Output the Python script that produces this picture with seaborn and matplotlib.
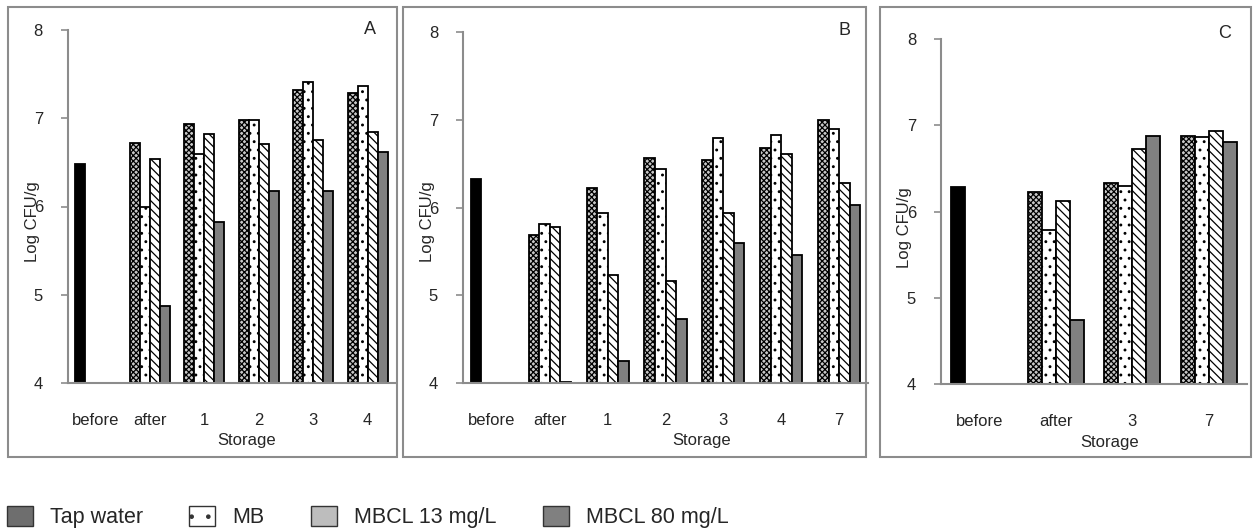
import matplotlib

matplotlib.use("Agg")
import matplotlib.pyplot as plt
import matplotlib.patches as mpatches
import pandas as pd
import seaborn as sns

# --- data ---
SERIES = ["Tap water", "MB", "MBCL 13 mg/L", "MBCL 80 mg/L"]

cats_a = ["before", "after", "1", "2", "3", "4"]
before_a = 6.48
tap_a = [6.72, 6.93, 6.98, 7.32, 7.29]
mb_a = [5.99, 6.59, 6.98, 7.41, 7.36]
mbcl13_a = [6.54, 6.82, 6.71, 6.75, 6.84]
mbcl80_a = [4.87, 5.82, 6.18, 6.18, 6.62]

cats_b = ["before", "after", "1", "2", "3", "4", "7"]
before_b = 6.33
tap_b = [5.69, 6.22, 6.56, 6.54, 6.68, 7.00]
mb_b = [5.81, 5.94, 6.44, 6.79, 6.83, 6.90]
mbcl13_b = [5.78, 5.23, 5.16, 5.94, 6.61, 6.28]
mbcl80_b = [4.01, 4.25, 4.73, 5.60, 5.46, 6.03]

cats_c = ["before", "after", "3", "7"]
before_c = 6.28
tap_c = [6.23, 6.33, 6.88]
mb_c = [5.79, 6.30, 6.86]
mbcl13_c = [6.12, 6.72, 6.93]
mbcl80_c = [4.74, 6.88, 6.81]

# --- styling ---
FONT = 12
LEGEND_FONT = 15.5
GRAY = "#8c8c8c"
BAR_FILL = {
    "Tap water": ("#c8c8c8", "xxxxxx"),
    "MB": ("white", ".."),
    "MBCL 13 mg/L": ("white", "\\\\\\\\"),
    "MBCL 80 mg/L": ("#808080", None),
}

sns.set_theme(style="white")
plt.rcParams["font.family"] = ["Liberation Sans", "DejaVu Sans"]
plt.rcParams["hatch.linewidth"] = 0.9
plt.rcParams["font.size"] = FONT


def make_df(cats, before, tap, mb, m13, m80):
    rows = [{"Storage": cats[0], "Treatment": "Tap water", "Log": before}]
    for i, c in enumerate(cats[1:]):
        for s, vals in zip(SERIES, [tap, mb, m13, m80]):
            rows.append({"Storage": c, "Treatment": s, "Log": vals[i]})
    return pd.DataFrame(rows)


# letter, data, categories, axes box (px), xlabel coords, letter pos, ylabel dx (px), ylabel y
panels = [
    ("A", make_df(cats_a, before_a, tap_a, mb_a, mbcl13_a, mbcl80_a), cats_a,
     (68, 395, 30, 383), (0.547, -0.142), (0.924, 1.0), -28, 0.456),
    ("B", make_df(cats_b, before_b, tap_b, mb_b, mbcl13_b, mbcl80_b), cats_b,
     (463, 868, 32, 383), (0.59, -0.142), (0.943, 1.005), -28, 0.459),
    ("C", make_df(cats_c, before_c, tap_c, mb_c, mbcl13_c, mbcl80_c), cats_c,
     (941, 1247, 39, 384), (0.552, -0.148), (0.928, 1.017), -29, 0.452),
]

W, H = 1253, 532
fig = plt.figure(figsize=(W / 100, H / 100), dpi=100)

# outer frames around each panel
for x0, x1 in [(8, 397), (403, 866), (880, 1251)]:
    fig.patches.append(
        mpatches.Rectangle(
            (x0 / W, 1 - 457 / H), (x1 - x0) / W, 450 / H,
            transform=fig.transFigure, fill=False, edgecolor=GRAY, lw=1.5,
        )
    )

for letter, df, cats, (l, r, t, b), xl, lett, ylab_dx, ylab_y in panels:
    ax = fig.add_axes([l / W, 1 - b / H, (r - l) / W, (b - t) / H])
    sns.barplot(
        data=df, x="Storage", y="Log", hue="Treatment", order=cats,
        hue_order=SERIES, width=0.73, dodge=True, legend=False, ax=ax,
        errorbar=None, gap=0,
    )
    for cont, s in zip(ax.containers, SERIES):
        face, hatch = BAR_FILL[s]
        for bar in cont:
            bar.set_facecolor(face)
            bar.set_edgecolor("black")
            bar.set_linewidth(1.3)
            if hatch:
                bar.set_hatch(hatch)
            if s == "Tap water" and bar.get_x() + bar.get_width() / 2 < 0.5:
                bar.set_facecolor("black")
                bar.set_hatch(None)

    ax.set_ylim(4, 8)
    ax.set_xlim(-0.5, len(cats) - 0.5)
    ax.set_yticks([4, 5, 6, 7, 8])
    ax.tick_params(axis="y", length=5, width=1.2, color=GRAY, pad=13,
                   labelsize=FONT, left=True, direction="out")
    ax.tick_params(axis="x", length=0, pad=21.5, labelsize=FONT)
    for side in ["top", "right"]:
        ax.spines[side].set_visible(False)
    for side in ["left", "bottom"]:
        ax.spines[side].set_color(GRAY)
        ax.spines[side].set_linewidth(1.5)

    ax.set_ylabel("Log CFU/g", fontsize=FONT)
    ax.yaxis.set_label_coords(ylab_dx / (r - l), ylab_y)
    ax.set_xlabel("Storage", fontsize=FONT)
    ax.xaxis.set_label_coords(*xl)
    ax.text(lett[0], lett[1], letter, transform=ax.transAxes, fontsize=FONT + 1,
            ha="center", va="center")

# --- legend along the bottom ---
leg_handles = [
    mpatches.Patch(facecolor="#6e6e6e", edgecolor="#333333", label="Tap water"),
    mpatches.Patch(facecolor="white", edgecolor="#333333", hatch=".", label="MB"),
    mpatches.Patch(facecolor="#bdbdbd", edgecolor="#333333", label="MBCL 13 mg/L"),
    mpatches.Patch(facecolor="#808080", edgecolor="#333333", label="MBCL 80 mg/L"),
]
fig.legend(
    handles=leg_handles, loc="center left", bbox_to_anchor=(7 / W, 1 - 517 / H),
    ncol=4, frameon=False, fontsize=LEGEND_FONT, handlelength=1.2,
    handleheight=1.1, columnspacing=2.15, handletextpad=0.8,
    borderpad=0, borderaxespad=0,
)

fig.savefig("out.png", dpi=100)
